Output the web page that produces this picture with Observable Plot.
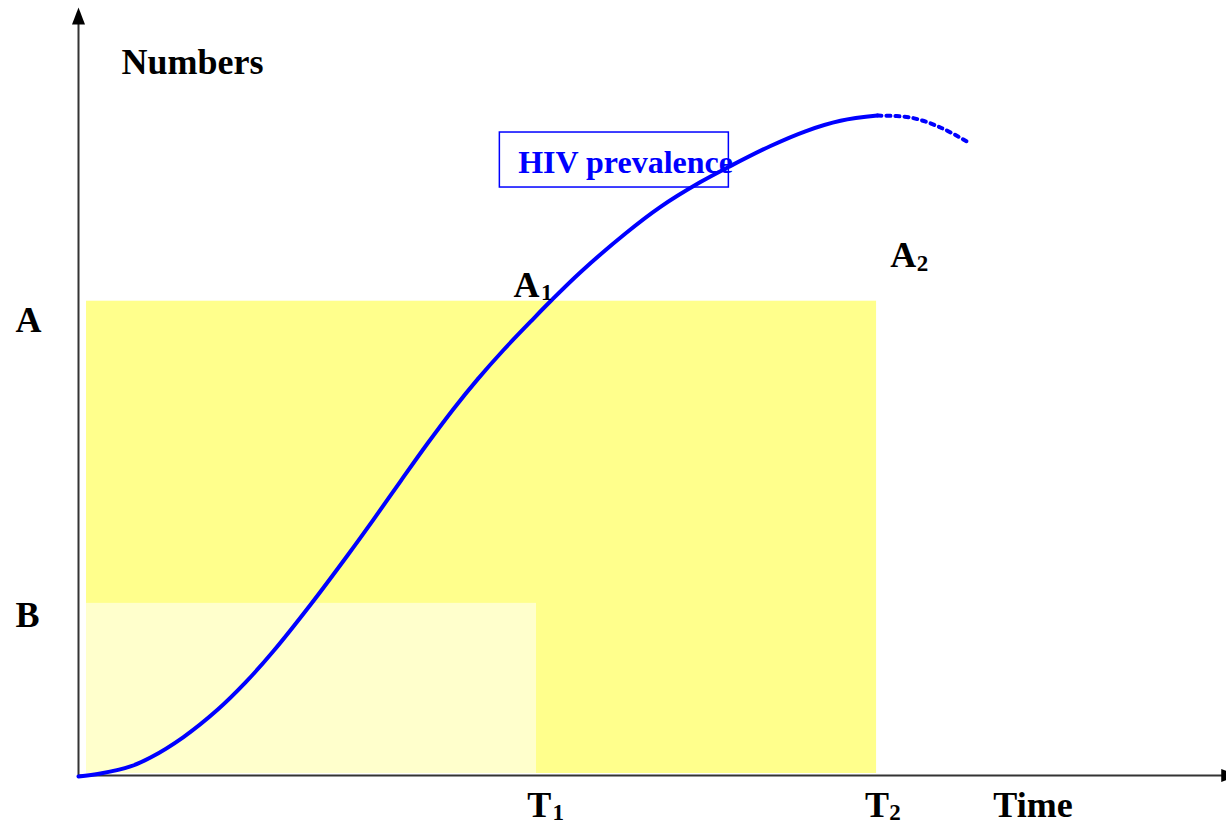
<!DOCTYPE html>
<html>
<head>
<meta charset="utf-8">
<script src="https://cdn.jsdelivr.net/npm/d3@7"></script>
<script src="https://cdn.jsdelivr.net/npm/@observablehq/plot@0.6"></script>
<style>
  html, body { margin: 0; padding: 0; background: #ffffff; }
  #chart svg { display: block; }
</style>
</head>
<body>
<div id="chart"></div>
<script>
// ---- data (abstract time / number units) ----
const T1 = 4.0;
const T2 = 6.97;
const levelA = 62;
const levelB = 22.5;

// solid part of the HIV prevalence curve
const curveTime = [0, 0.192, 0.454, 0.629, 0.917, 1.214, 1.459, 1.703, 2.026, 2.349, 2.576, 2.812, 3.048, 3.275, 3.485, 3.712, 3.948, 4.122, 4.384, 4.777, 5.083, 5.432, 5.677, 6.044, 6.349, 6.655, 6.978];
const curveValue = [-0.13, 0.26, 1.18, 2.35, 5.03, 8.59, 12.17, 16.27, 22.32, 28.76, 33.45, 38.46, 43.40, 47.92, 51.78, 55.62, 59.32, 61.99, 65.79, 70.85, 74.33, 77.57, 79.54, 82.29, 84.21, 85.58, 86.26];
// dotted projection
const projTime = [6.978, 7.266, 7.528, 7.773];
const projValue = [86.26, 86.01, 84.71, 82.75];

// labels
const mainLabels = ["Numbers", "A", "B", "A", "A", "T", "T", "Time"];
const mainX = [0.376, -0.55, -0.55, 3.80, 7.09, 3.92, 6.87, 7.99];
const mainY = [93.2, 59.5, 20.9, 64.1, 68.0, -3.92, -3.92, -3.92];
const subLabels = ["1", "2", "1", "2"];
const subX = [4.04, 7.32, 4.14, 7.08];
const subY = [63.1, 66.9, -4.84, -4.84];
const boxLabel = ["HIV prevalence"];

const curve = curveTime.map((t, i) => ({t, v: curveValue[i]}));
const proj = projTime.map((t, i) => ({t, v: projValue[i]}));
const mains = mainLabels.map((s, i) => ({s, x: mainX[i], y: mainY[i]}));
const subs = subLabels.map((s, i) => ({s, x: subX[i], y: subY[i]}));

const triangle = {
  draw(ctx) {
    ctx.moveTo(0, -9);
    ctx.lineTo(6.5, 8);
    ctx.lineTo(-6.5, 8);
    ctx.closePath();
  }
};

const font = "'Liberation Serif', 'Times New Roman', serif";

const chart = Plot.plot({
  width: 1226,
  height: 825,
  marginLeft: 78,
  marginRight: 3,
  marginTop: 10,
  marginBottom: 50,
  x: {domain: [0, 10], axis: null},
  y: {domain: [0, 100], axis: null},
  style: {background: "#ffffff", fontFamily: font},
  marks: [
    Plot.rect([{x1: 0.07, x2: T2, y1: 0.26, y2: levelA}], {x1: "x1", x2: "x2", y1: "y1", y2: "y2", fill: "#ffff8c"}),
    Plot.rect([{x1: 0.07, x2: T1, y1: 0.26, y2: levelB}], {x1: "x1", x2: "x2", y1: "y1", y2: "y2", fill: "#ffffcc"}),
    // axes
    Plot.ruleY([0], {x1: 0, x2: 10.0, stroke: "#333333", strokeWidth: 2}),
    Plot.ruleX([0], {y1: 0, y2: 99.5, stroke: "#333333", strokeWidth: 2}),
    Plot.dot([{x: 0, y: 99.2}], {x: "x", y: "y", symbol: triangle, fill: "#000000", stroke: null}),
    Plot.dot([{x: 10.05, y: 0}], {x: "x", y: "y", symbol: triangle, rotate: 90, fill: "#000000", stroke: null}),
    // label box
    Plot.rect([{x1: 3.68, x2: 5.68, y1: 76.86, y2: 84.05}], {x1: "x1", x2: "x2", y1: "y1", y2: "y2", fill: "none", stroke: "#0000ff", strokeWidth: 1.5}),
    Plot.text(boxLabel, {x: 3.84, y: 80.07, text: d => d, textAnchor: "start", fontSize: 32, fontWeight: "bold", fill: "#0000ff", fontFamily: font}),
    // curve
    Plot.line(curve, {x: "t", y: "v", curve: "catmull-rom", stroke: "#0000ff", strokeWidth: 4}),
    Plot.line(proj, {x: "t", y: "v", curve: "catmull-rom", stroke: "#0000ff", strokeWidth: 4, strokeDasharray: "4,5"}),
    // labels
    Plot.text(mains, {x: "x", y: "y", text: "s", textAnchor: "start", fontSize: 36, fontWeight: "bold", fill: "#000000", fontFamily: font}),
    Plot.text(subs, {x: "x", y: "y", text: "s", textAnchor: "start", fontSize: 23, fontWeight: "bold", fill: "#000000", fontFamily: font})
  ]
});
document.getElementById("chart").appendChild(chart);
</script>
</body>
</html>
